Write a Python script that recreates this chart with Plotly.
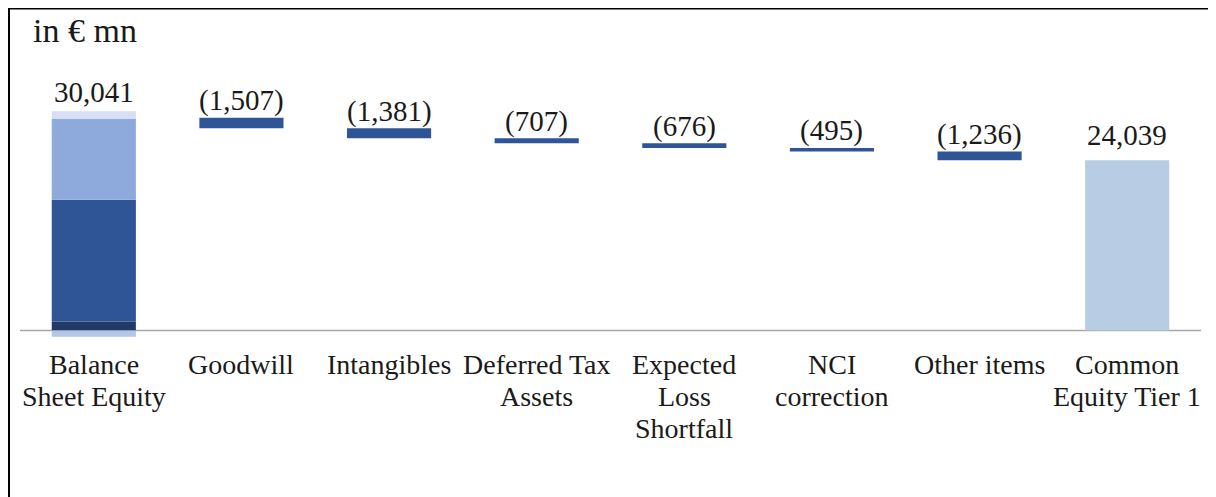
import plotly.graph_objects as go

categories = ["Balance<br>Sheet Equity", "Goodwill", "Intangibles", "Deferred Tax<br>Assets",
              "Expected<br>Loss<br>Shortfall", "NCI<br>correction", "Other items", "Common<br>Equity Tier 1"]
start_total = 30041
deductions = [-1507, -1381, -707, -676, -495, -1236]
end_total = 24039

# composition of the first (stacked) bar
equity_parts = [1252, 17192, 11397, 1100]          # stacked upward from zero
equity_negative = -900                               # drawn below zero
part_colors = ["#223A66", "#2F5597", "#8EA9DB", "#D7E0F2"]
neg_color = "#B2C6E8"
step_color = "#2F5597"
total_color = "#B8CCE4"

fig = go.Figure()
x0 = categories[0]
base = 0
for v, c in zip(equity_parts, part_colors):
    fig.add_trace(go.Bar(x=[x0], y=[v], base=[base], marker=dict(color=c, line=dict(width=0)),
                         width=0.57, showlegend=False, hoverinfo="skip"))
    base += v
fig.add_trace(go.Bar(x=[x0], y=[equity_negative], base=[0], marker=dict(color=neg_color, line=dict(width=0)),
                     width=0.57, showlegend=False, hoverinfo="skip"))

# deduction steps
running = start_total
step_x, step_y, step_base = [], [], []
for cat, d in zip(categories[1:-1], deductions):
    step_x.append(cat)
    step_y.append(-d)
    step_base.append(running + d)
    running += d
fig.add_trace(go.Bar(x=step_x, y=step_y, base=step_base, marker=dict(color=step_color, line=dict(width=0)),
                     width=0.57, showlegend=False, hoverinfo="skip"))

# end total
fig.add_trace(go.Bar(x=[categories[-1]], y=[end_total], base=[0], marker=dict(color=total_color, line=dict(width=0)),
                     width=0.57, showlegend=False, hoverinfo="skip"))

font_family = "Liberation Serif, Times New Roman, serif"
txt = "#1a1a1a"
vfont = dict(size=29, color=txt, family=font_family)
annotations = []
# value labels
annotations.append(dict(x=x0, y=sum(equity_parts), text=f"{start_total:,}", showarrow=False,
                        yanchor="middle", yshift=19, font=vfont))
running = start_total
for cat, d in zip(categories[1:-1], deductions):
    annotations.append(dict(x=cat, y=running, text=f"({abs(d):,})", showarrow=False,
                            yanchor="middle", yshift=17, font=vfont))
    running += d
annotations.append(dict(x=categories[-1], y=end_total, text=f"{end_total:,}", showarrow=False,
                        yanchor="middle", yshift=25, font=vfont))
# category labels, one annotation per line for tighter line spacing
for cat in categories:
    for i, line in enumerate(cat.split("<br>")):
        annotations.append(dict(x=cat, y=0, text=line, showarrow=False, yanchor="middle",
                                yshift=-34.5 - 32 * i,
                                font=dict(size=28, color=txt, family=font_family)))

# page has an 8px body margin: figure spans image px 8..1216
OFF = 8
W, H = 1216 - OFF, 497 - OFF
ml = 20 - OFF
plot_right = 1201 - OFF
mr = W - plot_right
mt = 60 - OFF
plot_bottom_px = 341.1 - OFF
mb = H - plot_bottom_px
plot_h = plot_bottom_px - mt
plot_w = plot_right - ml
y_low = -1500
y_high = y_low + plot_h * 141.2

def px_x(px):  # px in image coordinates
    return (px - OFF - ml) / plot_w

def px_y(py):
    return (plot_bottom_px - (py - OFF)) / plot_h

annotations.append(dict(x=px_x(85), y=px_y(30), xref="paper", yref="paper", text="in € mn",
                        showarrow=False, xanchor="center", yanchor="middle",
                        font=dict(size=34, color=txt, family=font_family)))

shapes = [
    dict(type="line", xref="paper", yref="y", x0=0, x1=1, y0=0, y1=0,
         line=dict(color="#A6A6A6", width=1.5), layer="below"),
    dict(type="line", xref="paper", yref="paper", x0=px_x(8), x1=px_x(1240), y0=px_y(8.6), y1=px_y(8.6),
         line=dict(color="#000000", width=2)),
    dict(type="line", xref="paper", yref="paper", x0=px_x(9), x1=px_x(9), y0=px_y(8), y1=px_y(520),
         line=dict(color="#000000", width=2)),
]

fig.update_layout(
    width=W, height=H, barmode="overlay",
    margin=dict(l=ml, r=mr, t=mt, b=mb, pad=0),
    paper_bgcolor="white", plot_bgcolor="white",
    xaxis=dict(type="category", categoryorder="array", categoryarray=categories,
               range=[-0.5, len(categories) - 0.5], showticklabels=False, showgrid=False,
               zeroline=False, showline=False, ticks=""),
    yaxis=dict(range=[y_low, y_high], visible=False, showgrid=False, zeroline=False),
    annotations=annotations, shapes=shapes, showlegend=False,
)

fig.write_html("out.html")
